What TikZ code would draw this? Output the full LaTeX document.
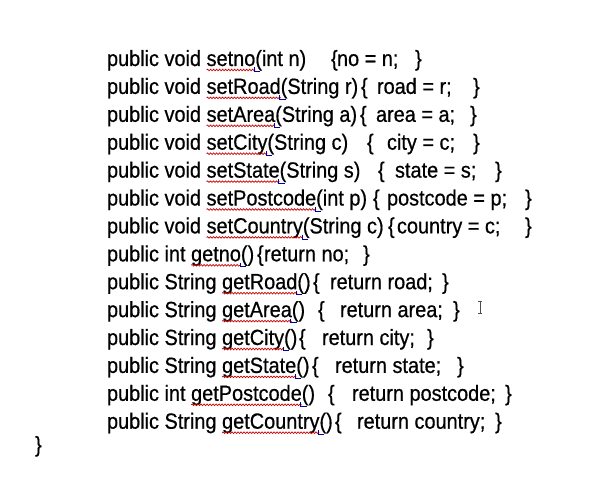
\documentclass[tikz,border=0pt]{standalone}
\usepackage{fontspec}
\setmainfont{Liberation Sans}[FakeStretch=0.905,FakeBold=0.6]
\usetikzlibrary{decorations.pathmorphing}

\begin{document}
\begin{tikzpicture}[x=1pt,y=-1pt]
      \tikzstyle{code}=[inner sep=0pt,outer sep=0pt,anchor=base west,text=black,font=\fontsize{22}{26}\selectfont];
      \tikzstyle{squiggle}=[red!80!black,line width=.7pt,decorate,decoration={snake,amplitude=.8pt,segment length=3pt}];
      \tikzstyle{marker}=[blue!65!black,line width=.7pt];
      \useasboundingbox[fill=white] (0,0) rectangle (601,481);
      \foreach \pre/\nm/\args/\lb/\bx/\body/\rb [count=\i] in {
          public void/setno/(int n)/331/337/no = n;/415,
          public void/setRoad/(String r)/361/377/road = r;/473,
          public void/setArea/(String a)/360/376/area = a;/470,
          public void/setCity/(String c)/367/387/city = c;/473,
          public void/setState/(String s)/378/395/state = s;/495,
          public void/setPostcode/(int p)/373/387/postcode = p;/525,
          public void/setCountry/(String c)/388/397/country = c;/525,
          public int/getno/()/257/264/return no;/363,
          public String/getRoad/()/313/330/return road;/442,
          public String/getArea/()/318/340/return area;/453,
          public String/getCity/()/299/322/return city;/427,
          public String/getState/()/312/335/return state;/457,
          public int/getPostcode/()/328/352/return postcode;/505,
          public String/getCountry/()/335/357/return country;/495}{
        \node[code] (pre\i) at (107,{66+(\i-1)*27.9}) {\pre\ \mbox{}};
        \node[code] (nm\i) at (pre\i.base east) {\nm};
        \node[code] (arg\i) at (nm\i.base east) {\args};
        \node[code] (lb\i) at (\lb,{66+(\i-1)*27.9}) {\{};
        \node[code] (body\i) at (\bx,{66+(\i-1)*27.9}) {\body};
        \node[code] (rb\i) at (\rb,{66+(\i-1)*27.9}) {\}};
        % spell check marks
        \draw[squiggle] ([yshift=-4pt]nm\i.base west) -- ([yshift=-4pt]nm\i.base east);
        \draw[marker] ([xshift=-1pt,yshift=-1.5pt]nm\i.base east) -- ++(0,4) -- ++(6,0);
      }
      \node[code] (close) at (35,452) {\}};
      % text cursor
      \draw[black!70,line width=.6pt] (480,301) -- (480,313)
        (478,301) -- (482,301) (478,313) -- (482,313);
\end{tikzpicture}
\end{document}
